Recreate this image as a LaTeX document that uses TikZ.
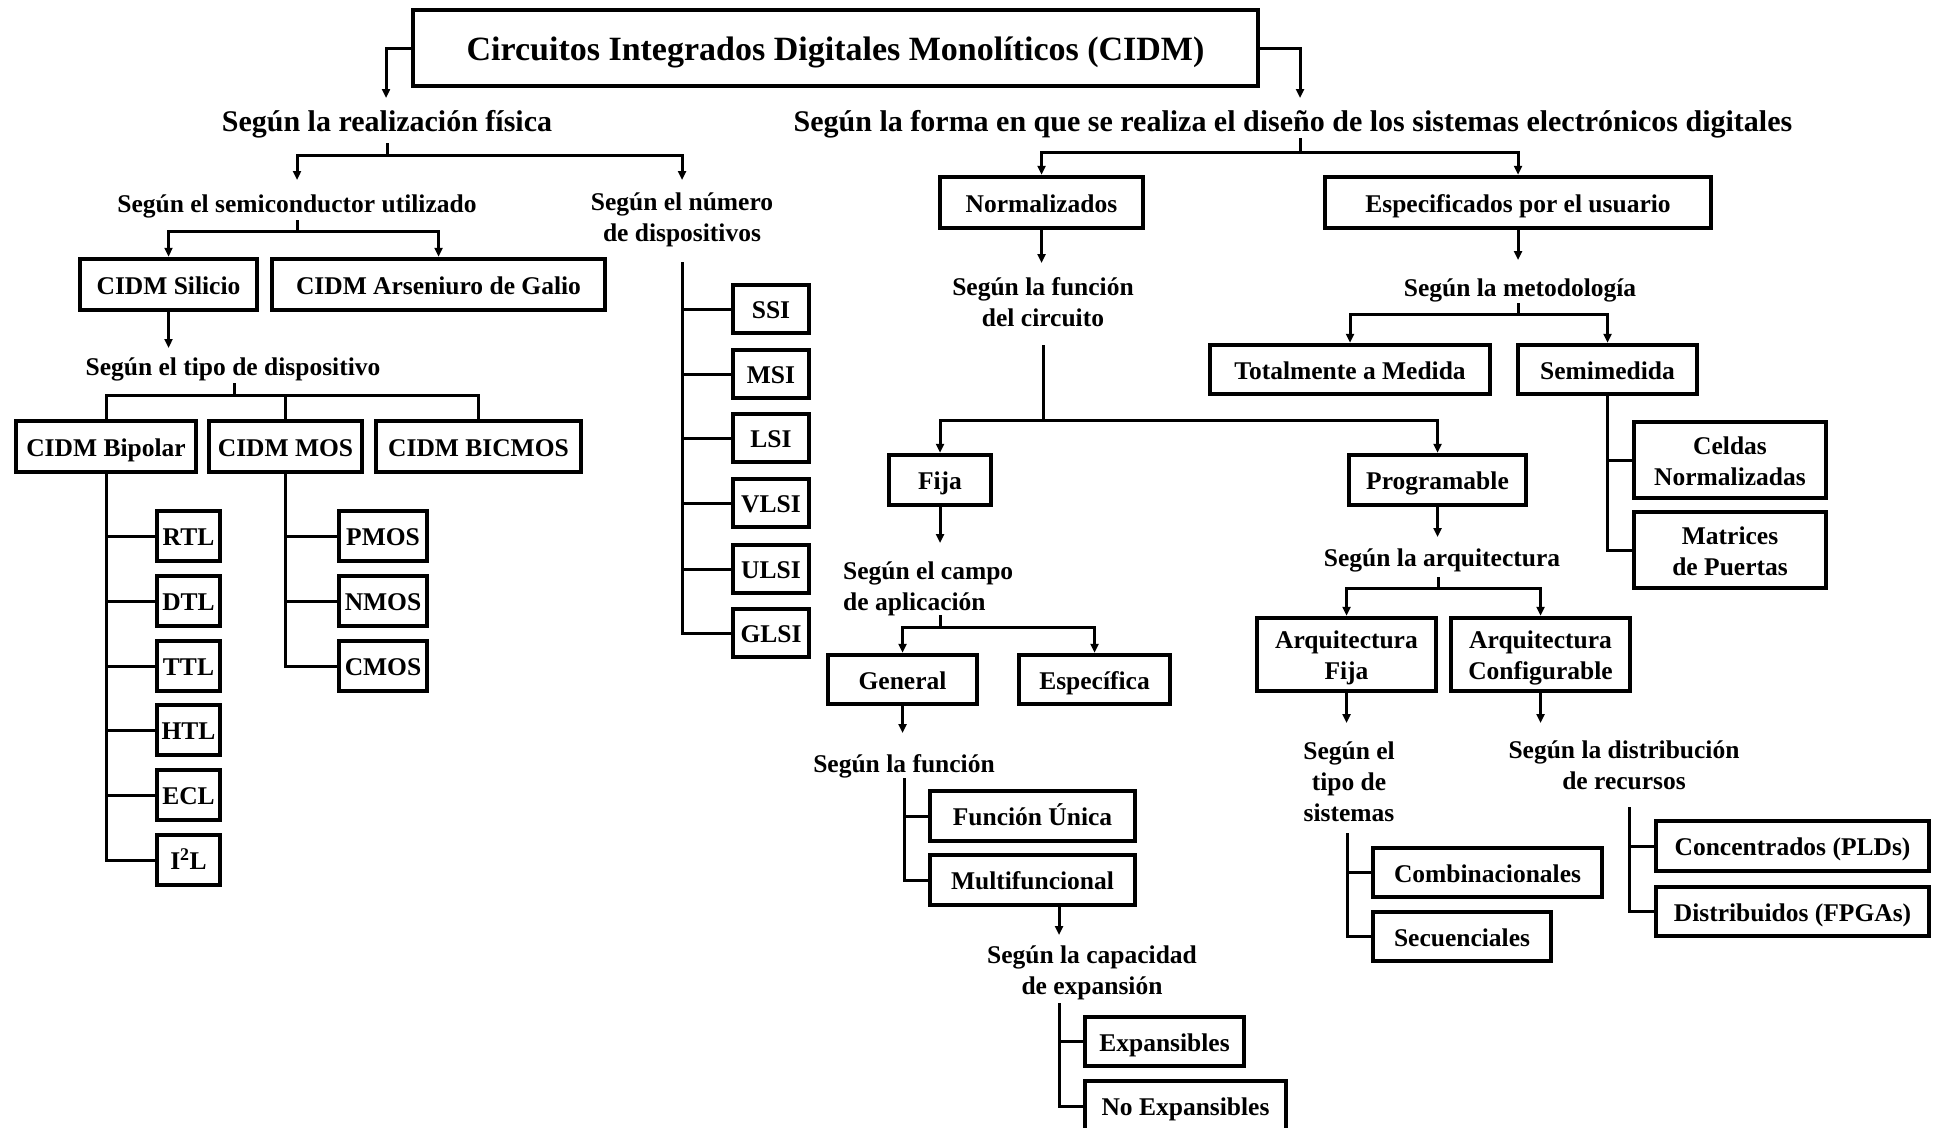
\documentclass[tikz,border=0pt]{standalone}
\usepackage{fontspec}
\setmainfont{Liberation Serif}
\usetikzlibrary{arrows.meta,calc}
\begin{document}
\begin{tikzpicture}[x=1pt,y=-1pt,
  bx/.style={draw,line width=4.5pt,inner sep=0pt,text height=23pt,text depth=3.2pt,font=\fontsize{25.5}{31}\selectfont\bfseries},
  bxm/.style={draw,line width=4.5pt,inner sep=0pt,align=center,font=\fontsize{25.5}{31}\selectfont\bfseries},
  hd/.style={inner sep=0pt,align=center,font=\fontsize{25.5}{31}\selectfont\bfseries},
  bighd/.style={inner sep=0pt,font=\fontsize{30}{36}\selectfont\bfseries},
  conn/.style={line width=3pt},
  arr/.style={line width=3pt,-{Triangle[length=9pt,width=8pt]}},
  sb/.style={bx,minimum width=63,minimum height=50},
  mb/.style={bx,minimum width=88,minimum height=50},
  nb/.style={bx,minimum width=76,minimum height=48}]
\fill[white] (0,0) rectangle (1934,1127);
\useasboundingbox (0,0) rectangle (1934,1127);

% ---------- nodes ----------
\node[bx,minimum width=845,minimum height=76,text height=28pt,text depth=3.2pt,font=\fontsize{34}{40}\selectfont\bfseries] (title) at (835.5,48) {Circuitos Integrados Digitales Monolíticos (CIDM)};
\node[bighd] (real) at (387,124.5) {Según la realización física};
\node[bighd] (forma) at (1293,124.5) {Según la forma en que se realiza el diseño de los sistemas electrónicos digitales};

\node[hd] (semi) at (297,206) {Según el semiconductor utilizado};
\node[hd] (numero) at (682,220) {Según el número\\de dispositivos};
\node[bx,minimum width=177,minimum height=51] (silicio) at (168.5,284.5) {CIDM Silicio};
\node[bx,minimum width=333,minimum height=51] (arsen) at (438.5,284.5) {CIDM Arseniuro de Galio};
\node[hd] (tipodisp) at (233,369.5) {Según el tipo de dispositivo};
\node[bx,minimum width=180,minimum height=51] (bipolar) at (106,446.5) {CIDM Bipolar};
\node[bx,minimum width=153,minimum height=51] (mos) at (285.5,446.5) {CIDM MOS};
\node[bx,minimum width=205,minimum height=51] (bicmos) at (478.5,446.5) {CIDM BICMOS};

\node[sb] (rtl) at (188.5,536) {RTL};
\node[sb] (dtl) at (188.5,601) {DTL};
\node[sb] (ttl) at (188.5,666) {TTL};
\node[sb] (htl) at (188.5,730) {HTL};
\node[sb] (ecl) at (188.5,795) {ECL};
\node[sb] (i2l) at (188.5,860) {I\textsuperscript{2}L};

\node[mb] (pmos) at (383,536) {PMOS};
\node[mb] (nmos) at (383,601) {NMOS};
\node[mb] (cmos) at (383,666) {CMOS};

\node[nb] (ssi) at (771,309) {SSI};
\node[nb] (msi) at (771,374) {MSI};
\node[nb] (lsi) at (771,438) {LSI};
\node[nb] (vlsi) at (771,503) {VLSI};
\node[nb] (ulsi) at (771,569) {ULSI};
\node[nb] (glsi) at (771,633) {GLSI};

\node[bx,minimum width=203,minimum height=51] (normal) at (1041.5,202.5) {Normalizados};
\node[bx,minimum width=386,minimum height=51] (espec) at (1518,202.5) {Especificados por el usuario};
\node[hd] (funccirc) at (1043,302) {Según la función\\del circuito};
\node[hd] (metod) at (1520,290.5) {Según la metodología};
\node[bx,minimum width=280,minimum height=49] (total) at (1350,369.5) {Totalmente a Medida};
\node[bx,minimum width=179,minimum height=49] (semim) at (1607.5,369.5) {Semimedida};
\node[bxm,minimum width=192,minimum height=76] (celdas) at (1730,460) {\rule{0pt}{20pt}Celdas\\Normalizadas};
\node[bxm,minimum width=192,minimum height=76] (matrices) at (1730,550) {\rule{0pt}{20pt}Matrices\\de Puertas};

\node[bx,minimum width=102,minimum height=50] (fija) at (940,480) {Fija};
\node[bx,minimum width=177,minimum height=50] (prog) at (1437.5,480) {Programable};
\node[hd,align=left,anchor=west] (campo) at (843,589) {Según el campo\\de aplicación};
\node[bx,minimum width=149,minimum height=49] (general) at (902.5,679.5) {General};
\node[bx,minimum width=151,minimum height=49] (especifica) at (1094.5,679.5) {Específica};
\node[hd] (funcion) at (904,766.5) {Según la función};
\node[bx,minimum width=205,minimum height=50] (unica) at (1032.5,816) {Función Única};
\node[bx,minimum width=205,minimum height=50] (multi) at (1032.5,880) {Multifuncional};
\node[hd] (capac) at (1092,972.5) {Según la capacidad\\de expansión};
\node[bx,minimum width=159,minimum height=49] (expans) at (1164.5,1041.5) {Expansibles};
\node[bx,minimum width=201,minimum height=50] (noexp) at (1185.5,1106) {No Expansibles};

\node[hd] (arqui) at (1442,560.5) {Según la arquitectura};
\node[bxm,minimum width=179,minimum height=73] (arqfija) at (1346.5,654.5) {\rule{0pt}{25pt}Arquitectura\\Fija};
\node[bxm,minimum width=179,minimum height=73] (arqconf) at (1540.5,654.5) {\rule{0pt}{25pt}Arquitectura\\Configurable};
\node[hd] (tiposist) at (1349,782) {Según el\\tipo de\\sistemas};
\node[hd] (distrib) at (1624,765) {Según la distribución\\de recursos};
\node[bx,minimum width=229,minimum height=49] (combi) at (1487.5,872.5) {Combinacionales};
\node[bx,minimum width=178,minimum height=49] (secu) at (1462,936.5) {Secuenciales};
\node[bx,minimum width=273,minimum height=50] (concen) at (1792.5,846) {Concentrados (PLDs)};
\node[bx,minimum width=273,minimum height=49] (distri) at (1792.5,911.5) {Distribuidos (FPGAs)};

% ---------- connectors ----------
\draw[arr] (title.west) -| ($(real.center)+(-1,-26.5)$);
\draw[arr] (title.east) -| ($(forma.center)+(7,-26.5)$);

\coordinate (realJ) at ($(real.center)+(0,30.5)$);
\draw[conn] ($(real.center)+(0,18.5)$) -- (realJ);
\draw[arr] (realJ) -| ($(semi.center)+(0,-26)$);
\draw[arr] (realJ) -| ($(numero.center)+(0,-40)$);

\coordinate (semiJ) at ($(semi.center)+(0,25)$);
\draw[conn] ($(semi.center)+(0,14)$) -- (semiJ);
\draw[arr] (semiJ) -| (silicio.north);
\draw[arr] (semiJ) -| (arsen.north);

\coordinate (tdIn) at ($(tipodisp.center)+(0,-21.5)$);
\draw[arr] (silicio.south) -- (silicio.south |- tdIn);

\coordinate (tdJ) at ($(tipodisp.center)+(1,25.5)$);
\draw[conn] ($(tipodisp.center)+(1,13.5)$) -- (tdJ);
\draw[conn] (tdJ) -| (bipolar.north);
\draw[conn] (tdJ) -| (mos.north);
\draw[conn] (tdJ) -| (bicmos.north);

\draw[conn] (bipolar.south) |- (i2l.west);
\foreach \n in {rtl,dtl,ttl,htl,ecl} \draw[conn] (bipolar.south |- \n.west) -- (\n.west);
\draw[conn] (mos.south) |- (cmos.west);
\foreach \n in {pmos,nmos} \draw[conn] (mos.south |- \n.west) -- (\n.west);

\coordinate (numJ) at ($(numero.center)+(0,42)$);
\draw[conn] (numJ) |- (glsi.west);
\foreach \n in {ssi,msi,lsi,vlsi,ulsi} \draw[conn] (numJ |- \n.west) -- (\n.west);

\coordinate (formaJ) at ($(forma.center)+(7,27.5)$);
\draw[conn] ($(forma.center)+(7,13.5)$) -- (formaJ);
\draw[arr] (formaJ) -| (normal.north);
\draw[arr] (formaJ) -| (espec.north);

\coordinate (fcIn) at ($(funccirc.center)+(0,-39)$);
\draw[arr] (normal.south) -- (normal.south |- fcIn);
\coordinate (meIn) at ($(metod.center)+(0,-30.5)$);
\draw[arr] (espec.south) -- (espec.south |- meIn);

\coordinate (meJ) at ($(metod.center)+(-2,23.5)$);
\draw[conn] ($(metod.center)+(-2,12.5)$) -- (meJ);
\draw[arr] (meJ) -| (total.north);
\draw[arr] (meJ) -| (semim.north);

\draw[conn] (semim.south) |- (matrices.west);
\draw[conn] (semim.south |- celdas.west) -- (celdas.west);

\coordinate (fcJ) at ($(funccirc.center)+(0,118)$);
\draw[conn] ($(funccirc.center)+(0,43)$) -- (fcJ);
\draw[arr] (fcJ) -| (fija.north);
\draw[arr] (fcJ) -| (prog.north);

\coordinate (caIn) at ($(campo.west)+(0,-46)$);
\draw[arr] (fija.south) -- (fija.south |- caIn);
\coordinate (caB) at ($(campo.west)+(0,26)$);
\coordinate (caJ) at ($(campo.west)+(0,38)$);
\draw[conn] (fija.south |- caB) -- (fija.south |- caJ);
\draw[arr] (fija.south |- caJ) -| (general.north);
\draw[arr] (fija.south |- caJ) -| (especifica.north);

\coordinate (fuIn) at ($(funcion.center)+(0,-33.5)$);
\draw[arr] (general.south) -- (general.south |- fuIn);
\coordinate (fuB) at ($(funcion.center)+(0,11.5)$);
\draw[conn] (fuB) |- (multi.west);
\draw[conn] (fuB |- unica.west) -- (unica.west);

\coordinate (cpIn) at ($(capac.center)+(-33,-37.5)$);
\draw[arr] (multi.south -| cpIn) -- (cpIn);
\coordinate (cpB) at ($(capac.center)+(-33,30.5)$);
\draw[conn] (cpB) |- (noexp.west);
\draw[conn] (cpB |- expans.west) -- (expans.west);

\coordinate (aqIn) at ($(arqui.center)+(0,-23.5)$);
\draw[arr] (prog.south) -- (prog.south |- aqIn);
\coordinate (aqJ) at ($(arqui.center)+(-4,27.5)$);
\draw[conn] ($(arqui.center)+(-4,16.5)$) -- (aqJ);
\draw[arr] (aqJ) -| (arqfija.north);
\draw[arr] (aqJ) -| (arqconf.north);

\coordinate (tsIn) at ($(tiposist.center)+(0,-59)$);
\draw[arr] (arqfija.south) -- (arqfija.south |- tsIn);
\draw[arr] (arqconf.south) -- (arqconf.south |- tsIn);

\coordinate (tsB) at ($(tiposist.center)+(-2,51)$);
\draw[conn] (tsB) |- (secu.west);
\draw[conn] (tsB |- combi.west) -- (combi.west);

\coordinate (dsB) at ($(distrib.center)+(5,42)$);
\draw[conn] (dsB) |- (distri.west);
\draw[conn] (dsB |- concen.west) -- (concen.west);
\end{tikzpicture}
\end{document}
